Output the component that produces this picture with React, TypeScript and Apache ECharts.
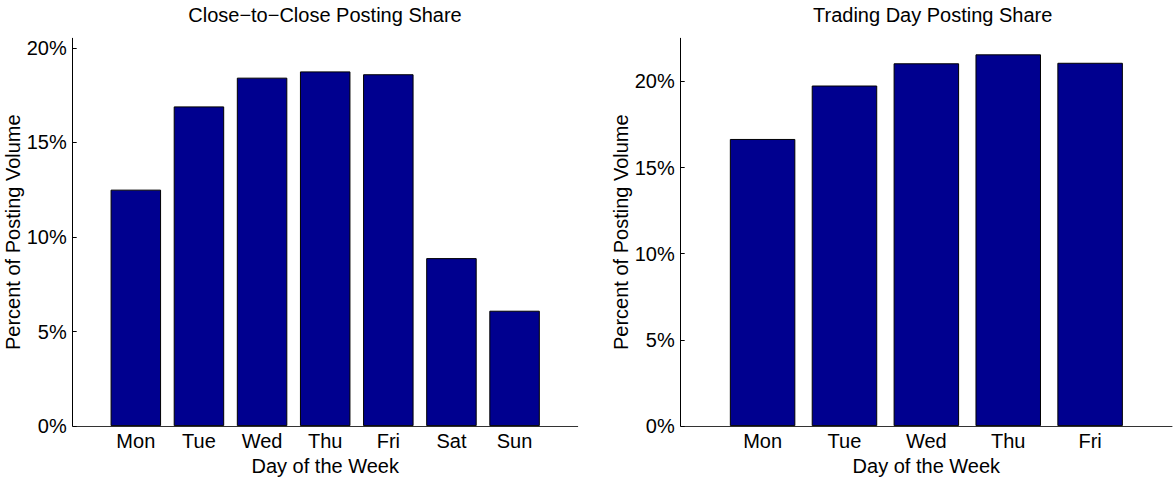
import React, { useEffect, useRef } from "react";
import * as echarts from "echarts";

const weekDays = ["Mon", "Tue", "Wed", "Thu", "Fri", "Sat", "Sun"];
const closeToCloseShare = [12.5, 16.9, 18.42, 18.75, 18.6, 8.88, 6.1];
const tradingDays = ["Mon", "Tue", "Wed", "Thu", "Fri"];
const tradingDayShare = [16.66, 19.76, 21.05, 21.57, 21.08];
const yTickValues = [0, 5, 10, 15, 20];
const leftTitle = "Close\u2212to\u2212Close Posting Share";
const rightTitle = "Trading Day Posting Share";
const xName = "Day of the Week";
const yName = "Percent of Posting Volume";

const FONT = "'Liberation Sans', Arial, Helvetica, sans-serif";
const BAR_COLOR = "#00008F";

export default function App() {
  const ref = useRef<HTMLDivElement>(null);

  useEffect(() => {
    if (!ref.current) return;
    const chart = echarts.init(ref.current, null, { renderer: "svg" });

    const makeX = (gridIndex: number, labels: string[]) => ({
      type: "value",
      gridIndex,
      min: 0,
      max: labels.length + 1,
      interval: 1,
      name: xName,
      nameLocation: "middle",
      nameGap: 23,
      nameTextStyle: { fontFamily: FONT, fontSize: 20, color: "#000" },
      axisLine: { show: true, lineStyle: { color: "#333", width: 1 } },
      axisTick: { show: false },
      splitLine: { show: false },
      axisLabel: {
        fontFamily: FONT,
        fontSize: 20,
        color: "#000",
        margin: 5,
        formatter: (v: number) => labels[v - 1] ?? "",
      },
    });

    const makeY = (gridIndex: number, max: number) => ({
      type: "value",
      gridIndex,
      min: 0,
      max,
      interval: 5,
      name: yName,
      nameLocation: "middle",
      nameRotate: 90,
      nameGap: 46,
      nameTextStyle: { fontFamily: FONT, fontSize: 20, color: "#000" },
      axisLine: { show: true, lineStyle: { color: "#000", width: 1 } },
      axisTick: {
        show: true,
        inside: true,
        length: 4,
        customValues: yTickValues,
        lineStyle: { color: "#000" },
      },
      splitLine: { show: false },
      axisLabel: {
        fontFamily: FONT,
        fontSize: 20,
        color: "#000",
        margin: 6,
        customValues: yTickValues,
        formatter: (v: number) => `${v}%`,
      },
    });

    const option = {
      animation: false,
      backgroundColor: "#fff",
      grid: [
        { left: 72.7, top: 38.3, width: 505, height: 393.7 },
        { left: 680.7, top: 38.3, width: 504, height: 393.7 },
      ],
      xAxis: [makeX(0, weekDays), makeX(1, tradingDays)],
      yAxis: [makeY(0, 20.5), makeY(1, 22.5)],
      graphic: [
        {
          type: "text",
          x: 325,
          y: 15,
          style: {
            text: leftTitle,
            fontFamily: FONT,
            fontSize: 20,
            fill: "#000",
            align: "center",
            verticalAlign: "middle",
          },
        },
        {
          type: "text",
          x: 932.7,
          y: 15,
          style: {
            text: rightTitle,
            fontFamily: FONT,
            fontSize: 20,
            fill: "#000",
            align: "center",
            verticalAlign: "middle",
          },
        },
      ],
      series: [
        {
          type: "bar",
          xAxisIndex: 0,
          yAxisIndex: 0,
          barWidth: "80%",
          data: closeToCloseShare.map((v, i) => [i + 1, v]),
          itemStyle: { color: BAR_COLOR, borderColor: "#000", borderWidth: 1 },
        },
        {
          type: "bar",
          xAxisIndex: 1,
          yAxisIndex: 1,
          barWidth: "80%",
          data: tradingDayShare.map((v, i) => [i + 1, v]),
          itemStyle: { color: BAR_COLOR, borderColor: "#000", borderWidth: 1 },
        },
      ],
    };

    chart.setOption(option as any);
    return () => chart.dispose();
  }, []);

  return (
    <div
      ref={ref}
      style={{ position: "absolute", left: 0, top: 0, width: 1175, height: 481 }}
    />
  );
}
